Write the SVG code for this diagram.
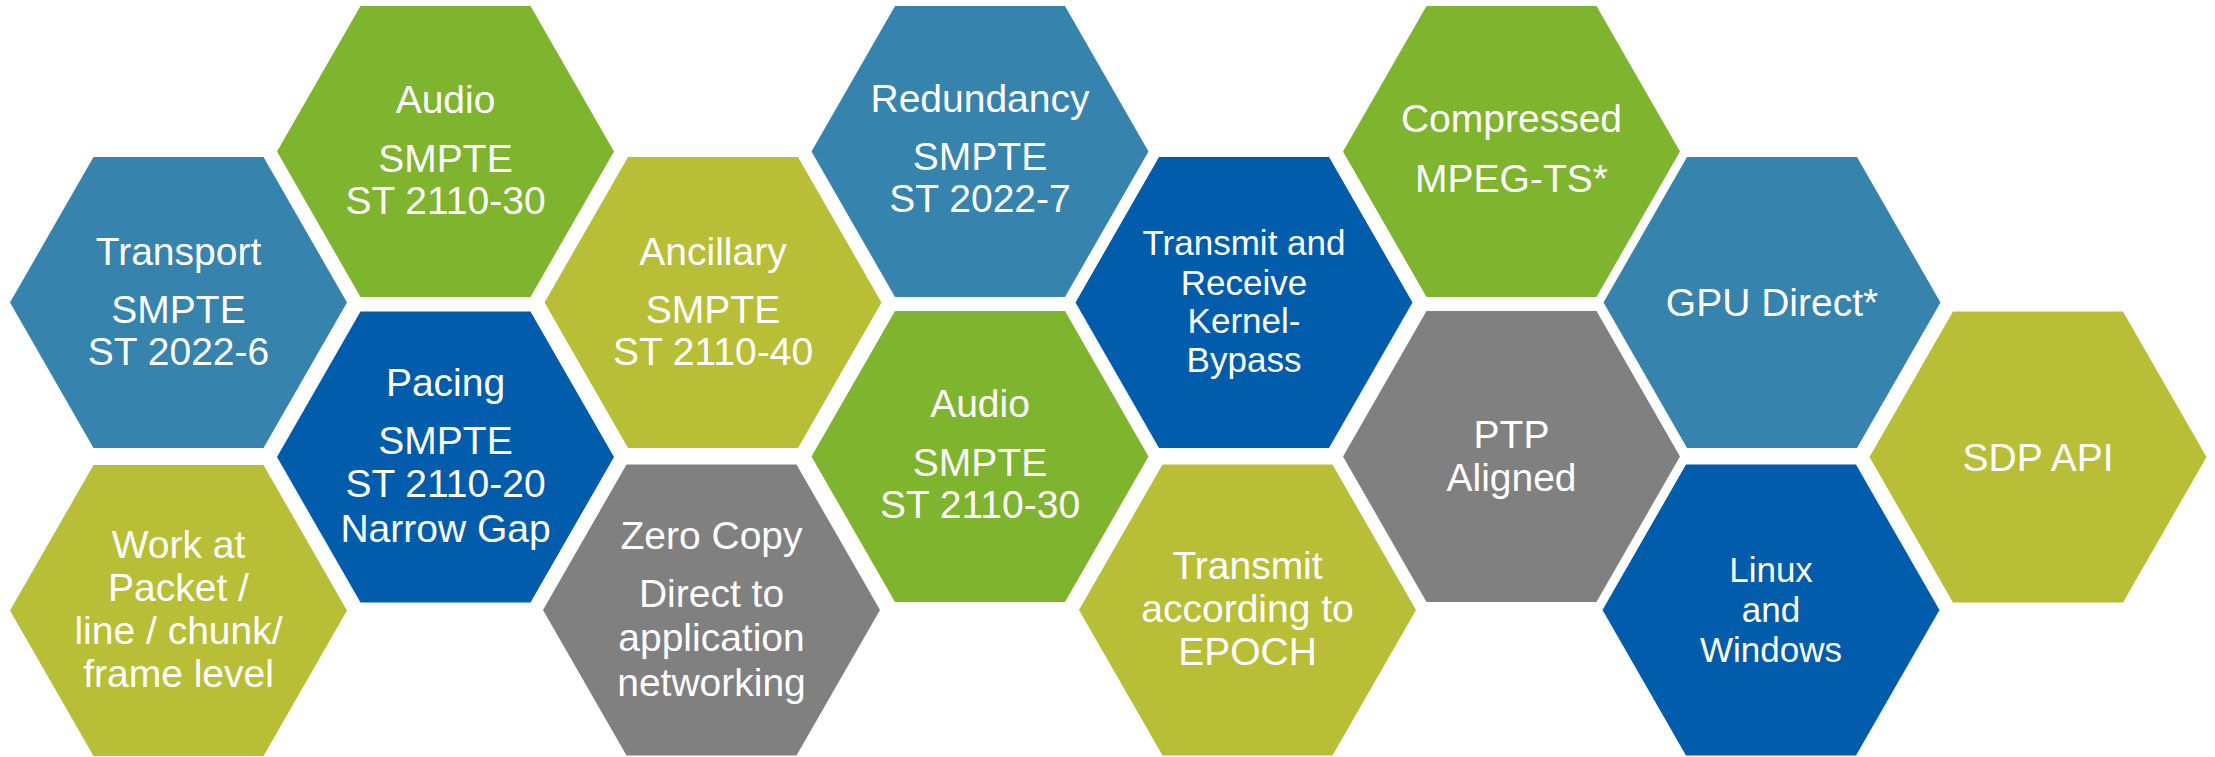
<svg xmlns="http://www.w3.org/2000/svg" xmlns:xlink="http://www.w3.org/1999/xlink" width="2215" height="757" viewBox="0 0 2215 757">
<defs>
<style>
.steel{fill:#3684ad}
.green{fill:#7eb42e}
.olive{fill:#b8bf37}
.dblue{fill:#025cac}
.gray{fill:#808080}
text{font-family:"Liberation Sans",Arial,sans-serif;fill:#ffffff;text-anchor:middle;font-size:39px}
.sm{font-size:35px}
</style>
<polygon id="hex" points="-168.5,0 -85,-145.5 85,-145.5 168.5,0 85,145.5 -85,145.5"/>
</defs>
<rect width="2215" height="757" fill="#ffffff"/>
<g id="connectors"/>
<g id="transport" transform="translate(178.5,302.5)">
<use xlink:href="#hex" href="#hex" class="steel"/>
<text y="-37.5">Transport</text><text y="20.5">SMPTE</text><text y="62.5">ST 2022-6</text>
</g>
<g id="work" transform="translate(178.5,610.5)">
<use xlink:href="#hex" href="#hex" class="olive"/>
<text y="-52.5">Work at</text><text y="-10">Packet /</text><text y="33">line / chunk/</text><text y="76.5">frame level</text>
</g>
<g id="audio1" transform="translate(445.5,151.5)">
<use xlink:href="#hex" href="#hex" class="green"/>
<text y="-38.5">Audio</text><text y="20.5">SMPTE</text><text y="62.5">ST 2110-30</text>
</g>
<g id="pacing" transform="translate(445.5,457)">
<use xlink:href="#hex" href="#hex" class="dblue"/>
<text y="-61">Pacing</text><text y="-3">SMPTE</text><text y="40">ST 2110-20</text><text y="85">Narrow Gap</text>
</g>
<g id="ancillary" transform="translate(713,302.5)">
<use xlink:href="#hex" href="#hex" class="olive"/>
<text y="-37.5">Ancillary</text><text y="20.5">SMPTE</text><text y="62.5">ST 2110-40</text>
</g>
<g id="zerocopy" transform="translate(711.5,610)">
<use xlink:href="#hex" href="#hex" class="gray"/>
<text y="-61">Zero Copy</text><text y="-3">Direct to</text><text y="41">application</text><text y="86">networking</text>
</g>
<g id="redundancy" transform="translate(980,151.5)">
<use xlink:href="#hex" href="#hex" class="steel"/>
<text y="-39.5">Redundancy</text><text y="18">SMPTE</text><text y="60.5">ST 2022-7</text>
</g>
<g id="audio2" transform="translate(980,456.5)">
<use xlink:href="#hex" href="#hex" class="green"/>
<text y="-39.5">Audio</text><text y="19.5">SMPTE</text><text y="61.5">ST 2110-30</text>
</g>
<g id="kernelbypass" transform="translate(1244,302.5)">
<use xlink:href="#hex" href="#hex" class="dblue"/>
<text class="sm" y="-47.5">Transmit and</text><text class="sm" y="-8">Receive</text><text class="sm" y="30.5">Kernel-</text><text class="sm" y="69.5">Bypass</text>
</g>
<g id="epoch" transform="translate(1247.5,610)">
<use xlink:href="#hex" href="#hex" class="olive"/>
<text y="-31">Transmit</text><text y="12">according to</text><text y="55">EPOCH</text>
</g>
<g id="compressed" transform="translate(1511.5,151.5)">
<use xlink:href="#hex" href="#hex" class="green"/>
<text y="-19.5">Compressed</text><text y="40.5">MPEG-TS*</text>
</g>
<g id="ptp" transform="translate(1511.5,456.5)">
<use xlink:href="#hex" href="#hex" class="gray"/>
<text y="-8.5">PTP</text><text y="34.5">Aligned</text>
</g>
<g id="gpudirect" transform="translate(1772,302.5)">
<use xlink:href="#hex" href="#hex" class="steel"/>
<text y="13">GPU Direct*</text>
</g>
<g id="linux" transform="translate(1771,610)">
<use xlink:href="#hex" href="#hex" class="dblue"/>
<text class="sm" y="-28">Linux</text><text class="sm" y="12">and</text><text class="sm" y="52">Windows</text>
</g>
<g id="sdpapi" transform="translate(2038,457)">
<use xlink:href="#hex" href="#hex" class="olive"/>
<text y="14">SDP API</text>
</g>
</svg>
